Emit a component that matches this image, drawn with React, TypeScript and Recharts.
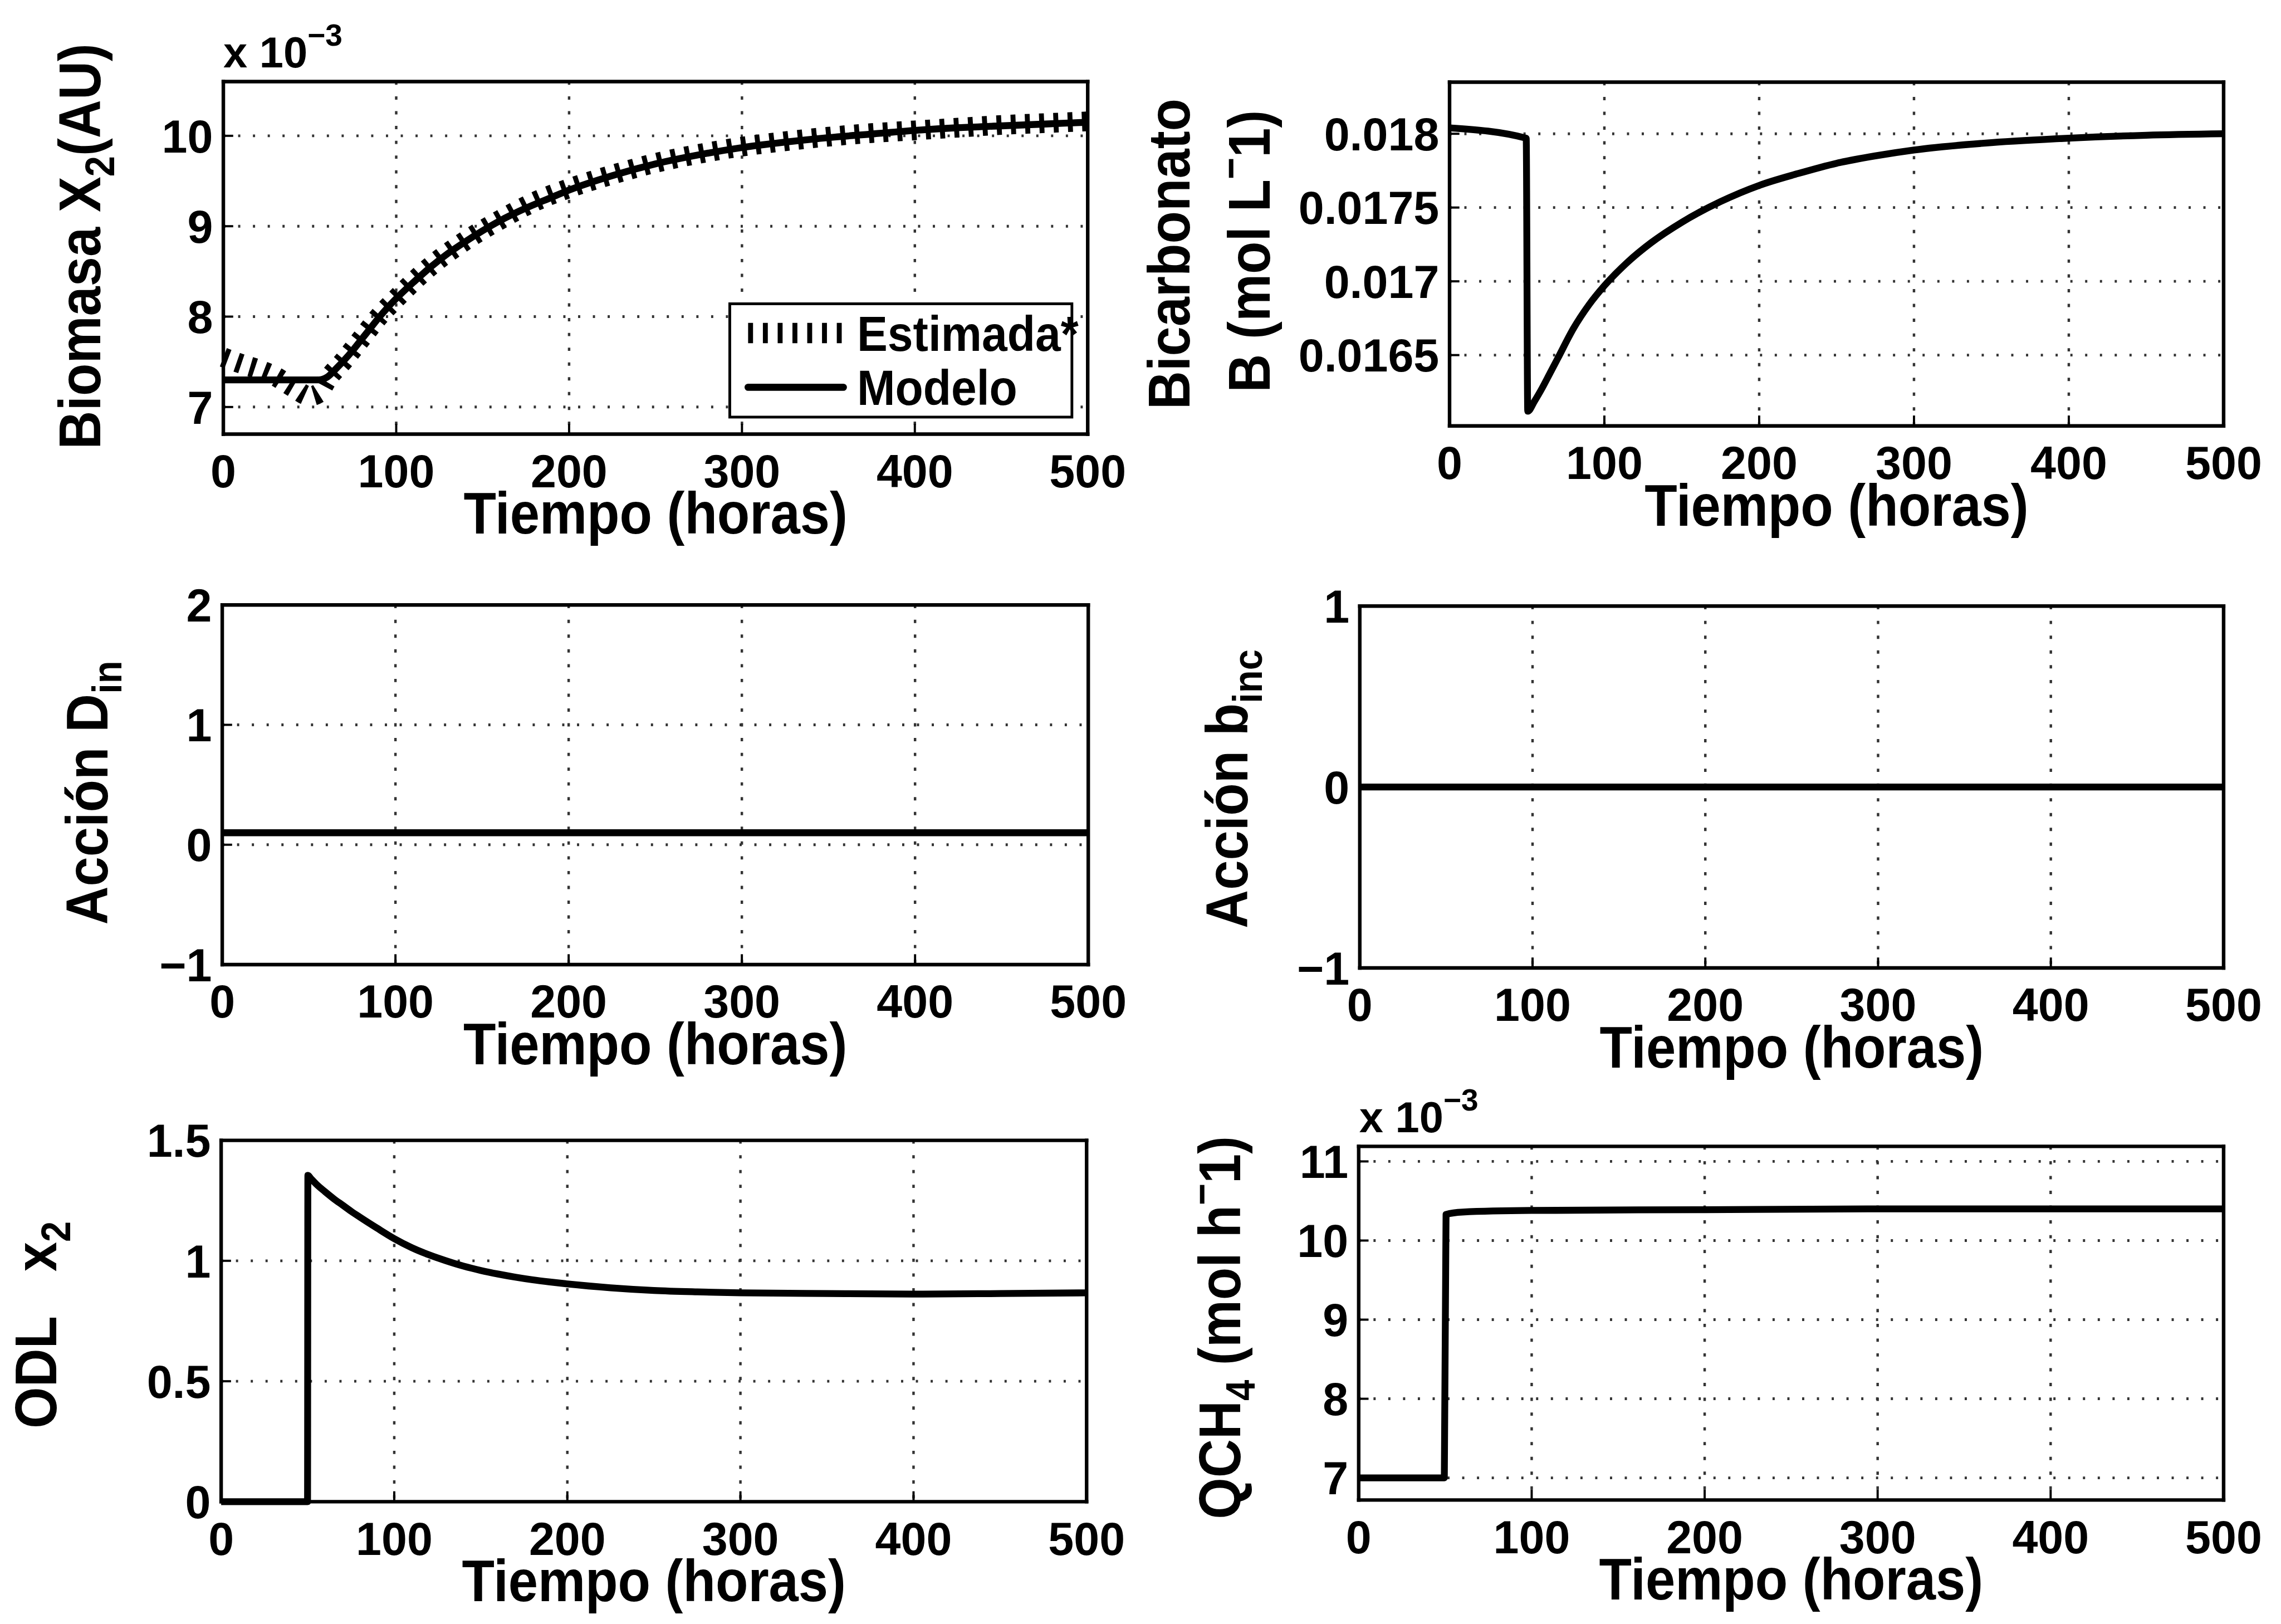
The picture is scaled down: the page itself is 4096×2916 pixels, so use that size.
import React from 'react';
import { LineChart, Line, XAxis, YAxis, CartesianGrid, Legend } from 'recharts';

const S = 0.983;
const W = 4096;
const H = 2916;
const FONT = '"Liberation Sans", Arial, Helvetica, sans-serif';
const TICK_FS = 84 * S;
const LABEL_FS = 107 * S;
const LABEL_SX = 0.91;
const BORDER = 6.5 * S;
const LINE_W = 12.5 * S;
const TICK_LEN = 18 * S;

// ---------------- data ----------------
const timeTicks = [0, 100, 200, 300, 400, 500];

// Panel 1: Biomasa X2
const biomasaModeloT = [0, 55, 60, 65, 70, 75, 80, 85, 90, 95, 100, 110, 120, 130, 140, 150, 160, 175, 190, 200, 225, 250, 275, 300, 325, 350, 375, 400, 425, 450, 475, 500];
const biomasaModeloV = [7.3, 7.3, 7.33, 7.42, 7.52, 7.63, 7.75, 7.87, 7.99, 8.1, 8.2, 8.38, 8.55, 8.7, 8.83, 8.95, 9.06, 9.2, 9.32, 9.4, 9.56, 9.69, 9.79, 9.87, 9.93, 9.98, 10.02, 10.06, 10.09, 10.11, 10.13, 10.15];
const biomasaEstimadaT = [0, 10, 20, 30, 40, 50, 55, 60, 70, 80, 90, 100, 120, 140, 160, 180, 200, 225, 250, 275, 300, 325, 350, 375, 400, 425, 450, 475, 500];
const biomasaEstimadaV = [7.55, 7.48, 7.42, 7.34, 7.22, 7.12, 7.15, 7.3, 7.52, 7.76, 8.0, 8.2, 8.56, 8.84, 9.07, 9.27, 9.42, 9.57, 9.7, 9.8, 9.88, 9.94, 9.99, 10.03, 10.06, 10.09, 10.12, 10.14, 10.16];
const biomasaTicks = [7, 8, 9, 10];
const biomasaMinorTicks = [10.431, 10.27, 10.109, 9.948, 9.786, 9.625, 9.464, 9.302, 9.141, 8.98, 8.819, 8.657, 8.496, 8.335, 8.173, 8.012, 7.851, 7.69, 7.528, 7.367, 7.206, 7.044, 6.883];
const biomasaDomain: [number, number] = [6.7, 10.6];
const legendItems = ['Estimada*', 'Modelo'];

// Panel 2: Bicarbonato
const bicarbT = [0, 49.5, 50.5, 55, 60, 65, 70, 80, 90, 100, 115, 130, 150, 175, 200, 225, 250, 275, 300, 350, 400, 450, 500];
const bicarbV = [0.01804, 0.01797, 0.01612, 0.01619, 0.01628, 0.01638, 0.01648, 0.01668, 0.01684, 0.01697, 0.01713, 0.01726, 0.0174, 0.01754, 0.01765, 0.01773, 0.0178, 0.01785, 0.01789, 0.01794, 0.01797, 0.01799, 0.018];
const bicarbTicks = [0.0165, 0.017, 0.0175, 0.018];
const bicarbDomain: [number, number] = [0.01602, 0.01835];

// Panel 3: Accion D_in
const dinT = [0, 500];
const dinV = [0.1, 0.1];
const dinTicks = [-1, 0, 1, 2];
const dinDomain: [number, number] = [-1, 2];

// Panel 4: Accion b_inc
const bincT = [0, 500];
const bincV = [0, 0];
const bincTicks = [-1, 0, 1];
const bincDomain: [number, number] = [-1, 1];

// Panel 5: ODL x2
const odlT = [0, 49.9, 50.1, 52, 55, 60, 65, 70, 75, 80, 90, 100, 110, 120, 130, 140, 150, 160, 170, 180, 190, 200, 225, 250, 275, 300, 350, 400, 450, 500];
const odlV = [0, 0, 1.355, 1.34, 1.318, 1.287, 1.258, 1.232, 1.206, 1.182, 1.136, 1.092, 1.055, 1.025, 1.0, 0.978, 0.96, 0.945, 0.932, 0.921, 0.912, 0.904, 0.888, 0.877, 0.871, 0.867, 0.864, 0.862, 0.864, 0.867];
const odlTicks = [0, 0.5, 1, 1.5];
const odlDomain: [number, number] = [0, 1.5];

// Panel 6: QCH4
const qch4T = [0, 49.5, 50.5, 60, 100, 200, 300, 400, 500];
const qch4V = [7.0, 7.0, 10.33, 10.36, 10.38, 10.39, 10.4, 10.4, 10.4];
const qch4Ticks = [7, 8, 9, 10, 11];
const qch4Domain: [number, number] = [6.72, 11.19];

const rows = (ts: number[], vs: number[]) => ts.map((t, i) => ({ t, v: vs[i] }));

// ---------------- helpers ----------------
const fmt = (v: number) => (v < 0 ? '\u2212' + Math.abs(v) : String(v));

const textProps = {
  fontFamily: FONT,
  fontWeight: 700,
  fill: '#000',
};

function RotLabel({ x, y, children }: { x: number; y: number; children: React.ReactNode }) {
  const cx = x * S;
  const cy = y * S;
  return (
    <text
      x={0}
      y={0}
      transform={`translate(${cx} ${cy}) rotate(-90) scale(${LABEL_SX} 1)`}
      textAnchor="middle"
      fontSize={LABEL_FS}
      {...textProps}
    >
      {children}
    </text>
  );
}

const sub = (s: string, after?: string) =>
  after
    ? [
        <tspan key="s" dy={0.24 * LABEL_FS} fontSize={0.7 * LABEL_FS}>{s}</tspan>,
        <tspan key="a" dy={-0.24 * LABEL_FS}>{after}</tspan>,
      ]
    : [<tspan key="s" dy={0.24 * LABEL_FS} fontSize={0.7 * LABEL_FS}>{s}</tspan>];
const sup = (s: string, after: string) => [
  <tspan key="p" dy={-0.42 * LABEL_FS} fontSize={0.7 * LABEL_FS}>{s}</tspan>,
  <tspan key="q" dy={0.42 * LABEL_FS}>{after}</tspan>,
];

function Exponent({ x, y }: { x: number; y: number }) {
  return (
    <text x={x * S} y={y * S} fontSize={79 * S} {...textProps}>
      x 10
      <tspan dy={-40 * S} fontSize={56 * S}>{'\u2212'}3</tspan>
    </text>
  );
}

type Series = { ts: number[]; vs: number[]; width: number; dash?: string };

type PanelProps = {
  box: [number, number, number, number];
  yDomain: [number, number];
  yTicks: number[];
  series: Series[];
  yLabel: React.ReactNode;
  minorTicks?: number[];
  legend?: boolean;
};

function LegendBox() {
  const L = 1331, T = 552, R = 1961, B = 764;
  const w = (R - L) * S;
  const h = (B - T) * S;
  const b = 5 * S;
  const rowY = [608, 707];
  return (
    <svg width={w} height={h} style={{ display: 'block', overflow: 'visible' }}>
      <rect x={b / 2} y={b / 2} width={w - b} height={h - b} fill="#fff" stroke="#000" strokeWidth={b} />
      <line x1={(1367 - L) * S} x2={(1538 - L) * S} y1={(rowY[0] - T) * S} y2={(rowY[0] - T) * S} stroke="#000" strokeWidth={37 * S} strokeDasharray={`${9 * S} ${18 * S}`} />
      <line x1={(1367 - L) * S} x2={(1541 - L) * S} y1={(rowY[1] - T) * S} y2={(rowY[1] - T) * S} stroke="#000" strokeWidth={13 * S} strokeLinecap="round" />
      {legendItems.map((item, i) => (
        <text
          key={item}
          x={0}
          y={0}
          transform={`translate(${(1566 - L) * S} ${(rowY[i] - T) * S + 0.36 * 90 * S}) scale(0.93 1)`}
          fontSize={90 * S}
          {...textProps}
        >
          {item}
        </text>
      ))}
    </svg>
  );
}

const AX = 1; // axis thickness reserved by recharts (px)

function Panel({ box, yDomain, yTicks, series, yLabel, minorTicks, legend }: PanelProps) {
  const [L, T, R, B] = box;
  const nLeft = minorTicks ? 2 : 1;
  const margin = {
    left: L * S - nLeft * AX,
    top: T * S - AX,
    right: W - R * S - AX,
    bottom: H - B * S - AX,
  };
  const axisLine = { stroke: '#000', strokeWidth: BORDER, strokeLinecap: 'square' as const };
  return (
    <div style={{ position: 'absolute', left: 0, top: 0 }}>
      <LineChart width={W} height={H} margin={margin}>
        <CartesianGrid xAxisId="b" yAxisId="l" horizontal vertical={false} stroke="#333" strokeWidth={5 * S} strokeDasharray={`${4 * S} ${23 * S}`} />
        <CartesianGrid xAxisId="b" yAxisId="l" horizontal={false} vertical stroke="#333" strokeWidth={4.5 * S} strokeDasharray={`${6 * S} ${21 * S}`} />
        <XAxis
          xAxisId="b"
          dataKey="t"
          type="number"
          domain={[0, 500]}
          ticks={timeTicks}
          height={AX}
          tickSize={0}
          tickMargin={0}
          axisLine={axisLine}
          tickLine={false}
          interval={0}
          tick={(p: any) => (
            <g>
              <line x1={p.x} x2={p.x} y1={p.y - AX} y2={p.y - AX - TICK_LEN} stroke="#000" strokeWidth={4 * S} />
              <text x={p.x} y={p.y + 97 * S} textAnchor="middle" fontSize={TICK_FS} {...textProps}>
                {fmt(p.payload.value)}
              </text>
            </g>
          )}
          label={(p: any) => {
            const vb = p.viewBox || {};
            const cx = vb.x + vb.width / 2;
            const cy = vb.y + 182 * S;
            return (
              <text x={0} y={0} transform={`translate(${cx} ${cy}) scale(${LABEL_SX} 1)`} textAnchor="middle" fontSize={LABEL_FS} {...textProps}>
                Tiempo (horas)
              </text>
            );
          }}
        />
        <XAxis
          xAxisId="t"
          orientation="top"
          dataKey="t"
          type="number"
          domain={[0, 500]}
          ticks={timeTicks}
          height={AX}
          tickSize={0}
          tickMargin={0}
          axisLine={axisLine}
          tickLine={false}
          interval={0}
          tick={(p: any) => <line x1={p.x} x2={p.x} y1={p.y + AX} y2={p.y + AX + TICK_LEN} stroke="#000" strokeWidth={4 * S} />}
        />
        <YAxis
          yAxisId="l"
          type="number"
          domain={yDomain}
          ticks={yTicks}
          width={AX}
          tickSize={0}
          tickMargin={0}
          axisLine={axisLine}
          tickLine={false}
          interval={0}
          tick={(p: any) => (
            <g>
              <line x1={p.x} x2={p.x + TICK_LEN} y1={p.y} y2={p.y} stroke="#000" strokeWidth={4 * S} />
              <text x={p.x - 19 * S} y={p.y} dy={0.36 * TICK_FS} textAnchor="end" fontSize={TICK_FS} {...textProps}>
                {fmt(p.payload.value)}
              </text>
            </g>
          )}
          label={() => <g>{yLabel}</g>}
        />
        <YAxis
          yAxisId="r"
          orientation="right"
          type="number"
          domain={yDomain}
          ticks={yTicks}
          width={AX}
          tickSize={0}
          tickMargin={0}
          axisLine={axisLine}
          tickLine={false}
          interval={0}
          tick={(p: any) => <line x1={p.x} x2={p.x - TICK_LEN} y1={p.y} y2={p.y} stroke="#000" strokeWidth={4 * S} />}
        />
        {minorTicks && (
          <YAxis
            yAxisId="minor"
            type="number"
            domain={yDomain}
            ticks={minorTicks}
            width={AX}
            tickSize={0}
            tickMargin={0}
            axisLine={false}
            tickLine={false}
            interval={0}
            tick={(p: any) => <line x1={p.x} x2={p.x + 20 * S} y1={p.y} y2={p.y} stroke="#000" strokeWidth={5 * S} />}
          />
        )}
        {series.map((s, i) => (
          <Line
            key={i}
            data={rows(s.ts, s.vs)}
            dataKey="v"
            xAxisId="b"
            yAxisId="l"
            type="monotone"
            stroke="#000"
            strokeWidth={s.width}
            strokeDasharray={s.dash}
            strokeLinejoin="round"
            dot={false}
            activeDot={false}
            isAnimationActive={false}
          />
        ))}
        {legend && (
          <Legend
            layout="vertical"
            align="center"
            verticalAlign="middle"
            wrapperStyle={{ position: 'absolute', left: 1331 * S, top: 552 * S, width: 630 * S, height: 212 * S, margin: 0, padding: 0 }}
            content={() => <LegendBox />}
          />
        )}
      </LineChart>
    </div>
  );
}

export default function App() {
  return (
    <div style={{ position: 'absolute', left: 0, top: 0, width: W, height: H, background: '#fff', overflow: 'hidden' }}>
      <Panel
        box={[408, 149, 1987, 793]}
        yDomain={biomasaDomain}
        yTicks={biomasaTicks}
        minorTicks={biomasaMinorTicks}
        legend
        series={[
          { ts: biomasaEstimadaT, vs: biomasaEstimadaV, width: 36 * S, dash: `${9 * S} ${17 * S}` },
          { ts: biomasaModeloT, vs: biomasaModeloV, width: LINE_W },
        ]}
        yLabel={
          <g>
            <RotLabel x={183} y={450}>
              Biomasa X{sub('2', '(AU)')}
            </RotLabel>
            <Exponent x={408} y={123} />
          </g>
        }
      />
      <Panel
        box={[2648, 150, 4062, 778]}
        yDomain={bicarbDomain}
        yTicks={bicarbTicks}
        series={[{ ts: bicarbT, vs: bicarbV, width: LINE_W }]}
        yLabel={
          <g>
            <RotLabel x={2173} y={464}>Bicarbonato</RotLabel>
            <RotLabel x={2319} y={459}>
              B (mol L{sup('\u2212', '1)')}
            </RotLabel>
          </g>
        }
      />
      <Panel
        box={[406, 1105, 1988, 1762]}
        yDomain={dinDomain}
        yTicks={dinTicks}
        series={[{ ts: dinT, vs: dinV, width: LINE_W }]}
        yLabel={
          <RotLabel x={196} y={1448}>
            Acción D{sub('in')}
          </RotLabel>
        }
      />
      <Panel
        box={[2484, 1107, 4062, 1768]}
        yDomain={bincDomain}
        yTicks={bincTicks}
        series={[{ ts: bincT, vs: bincV, width: LINE_W }]}
        yLabel={
          <RotLabel x={2279} y={1441}>
            Acción b{sub('inc')}
          </RotLabel>
        }
      />
      <Panel
        box={[404, 2083, 1985, 2743]}
        yDomain={odlDomain}
        yTicks={odlTicks}
        series={[{ ts: odlT, vs: odlV, width: LINE_W }]}
        yLabel={
          <RotLabel x={103} y={2420}>
            {'ODL\u00a0\u00a0\u00a0x'}
            {sub('2')}
          </RotLabel>
        }
      />
      <Panel
        box={[2482, 2094, 4062, 2740]}
        yDomain={qch4Domain}
        yTicks={qch4Ticks}
        series={[{ ts: qch4T, vs: qch4V, width: LINE_W }]}
        yLabel={
          <g>
            <RotLabel x={2266} y={2425}>
              QCH{sub('4', ' (mol h')}
              {sup('\u2212', '1)')}
            </RotLabel>
            <Exponent x={2483} y={2068} />
          </g>
        }
      />
    </div>
  );
}
